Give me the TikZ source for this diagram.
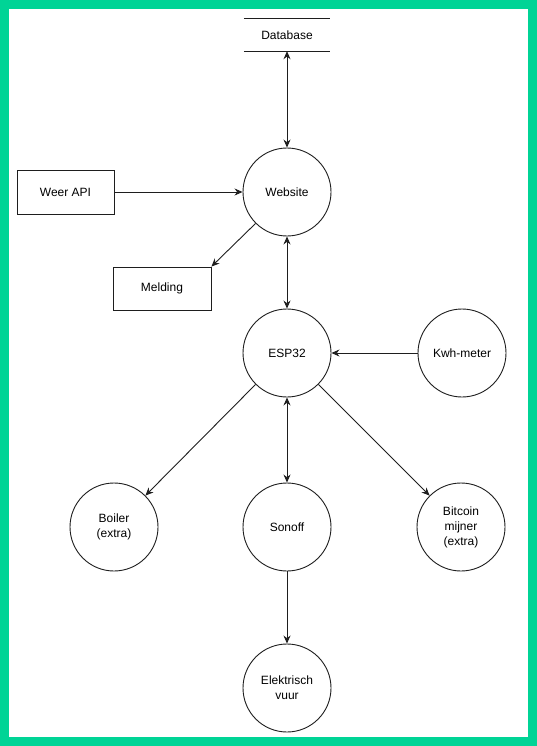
\documentclass[tikz,border=0pt]{standalone}
\usepackage{fontspec}
\setmainfont{Liberation Sans}
\usetikzlibrary{arrows.meta}
\definecolor{frame}{RGB}{0,212,150}
\definecolor{linec}{RGB}{30,30,30}
\begin{document}
\begin{tikzpicture}[x=1pt,y=-1pt,
  every node/.style={font=\fontsize{12}{15}\selectfont, align=center},
  circ/.style={draw=linec, circle, minimum size=88pt, inner sep=0pt, line width=0.9pt},
  rectbox/.style={draw=linec, rectangle, minimum width=97pt, minimum height=44pt, line width=0.9pt},
  conn/.style={draw=linec, line width=0.9pt, -{Stealth[length=8pt,width=7pt]}},
  biconn/.style={draw=linec, line width=0.9pt, {Stealth[length=8pt,width=7pt]}-{Stealth[length=8pt,width=7pt]}}]
\fill[frame] (0,0) rectangle (537,746);
\fill[white] (9,9) rectangle (528,737);
\useasboundingbox (0,0) rectangle (537,746);
% Database
\node[minimum width=86pt, minimum height=32pt, inner sep=0pt] (db) at (287,35) {Database};
\draw[linec, line width=0.9pt] (db.north west) -- (db.north east);
\draw[linec, line width=0.9pt] (db.south west) -- (db.south east);
\node[circ] (web) at (287,192) {Website};
\node[rectbox] (weer) at (65.5,192) {Weer API};
\node[rectbox, minimum width=98pt, minimum height=43pt] (meld) at (162,288.5) {Melding};
\node[circ] (esp) at (287,353) {ESP32};
\node[circ] (kwh) at (462,353) {Kwh-meter};
\node[circ] (boiler) at (114,527) {Boiler\\(extra)};
\node[circ] (sonoff) at (287,527) {Sonoff};
\node[circ] (bitcoin) at (461,527) {Bitcoin\\mijner\\(extra)};
\node[circ] (vuur) at (287,688) {Elektrisch\\vuur};
% connectors
\draw[biconn] (db.south) -- (web.north);
\draw[conn] (weer.east) -- (web.west);
\draw[conn] (web.225) -- (meld.north east);
\draw[biconn] (web.south) -- (esp.north);
\draw[conn] (kwh.west) -- (esp.east);
\draw[conn] (esp.225) -- (boiler.45);
\draw[biconn] (esp.south) -- (sonoff.north);
\draw[conn] (esp.315) -- (bitcoin.135);
\draw[conn] (sonoff.south) -- (vuur.north);
\end{tikzpicture}
\end{document}
